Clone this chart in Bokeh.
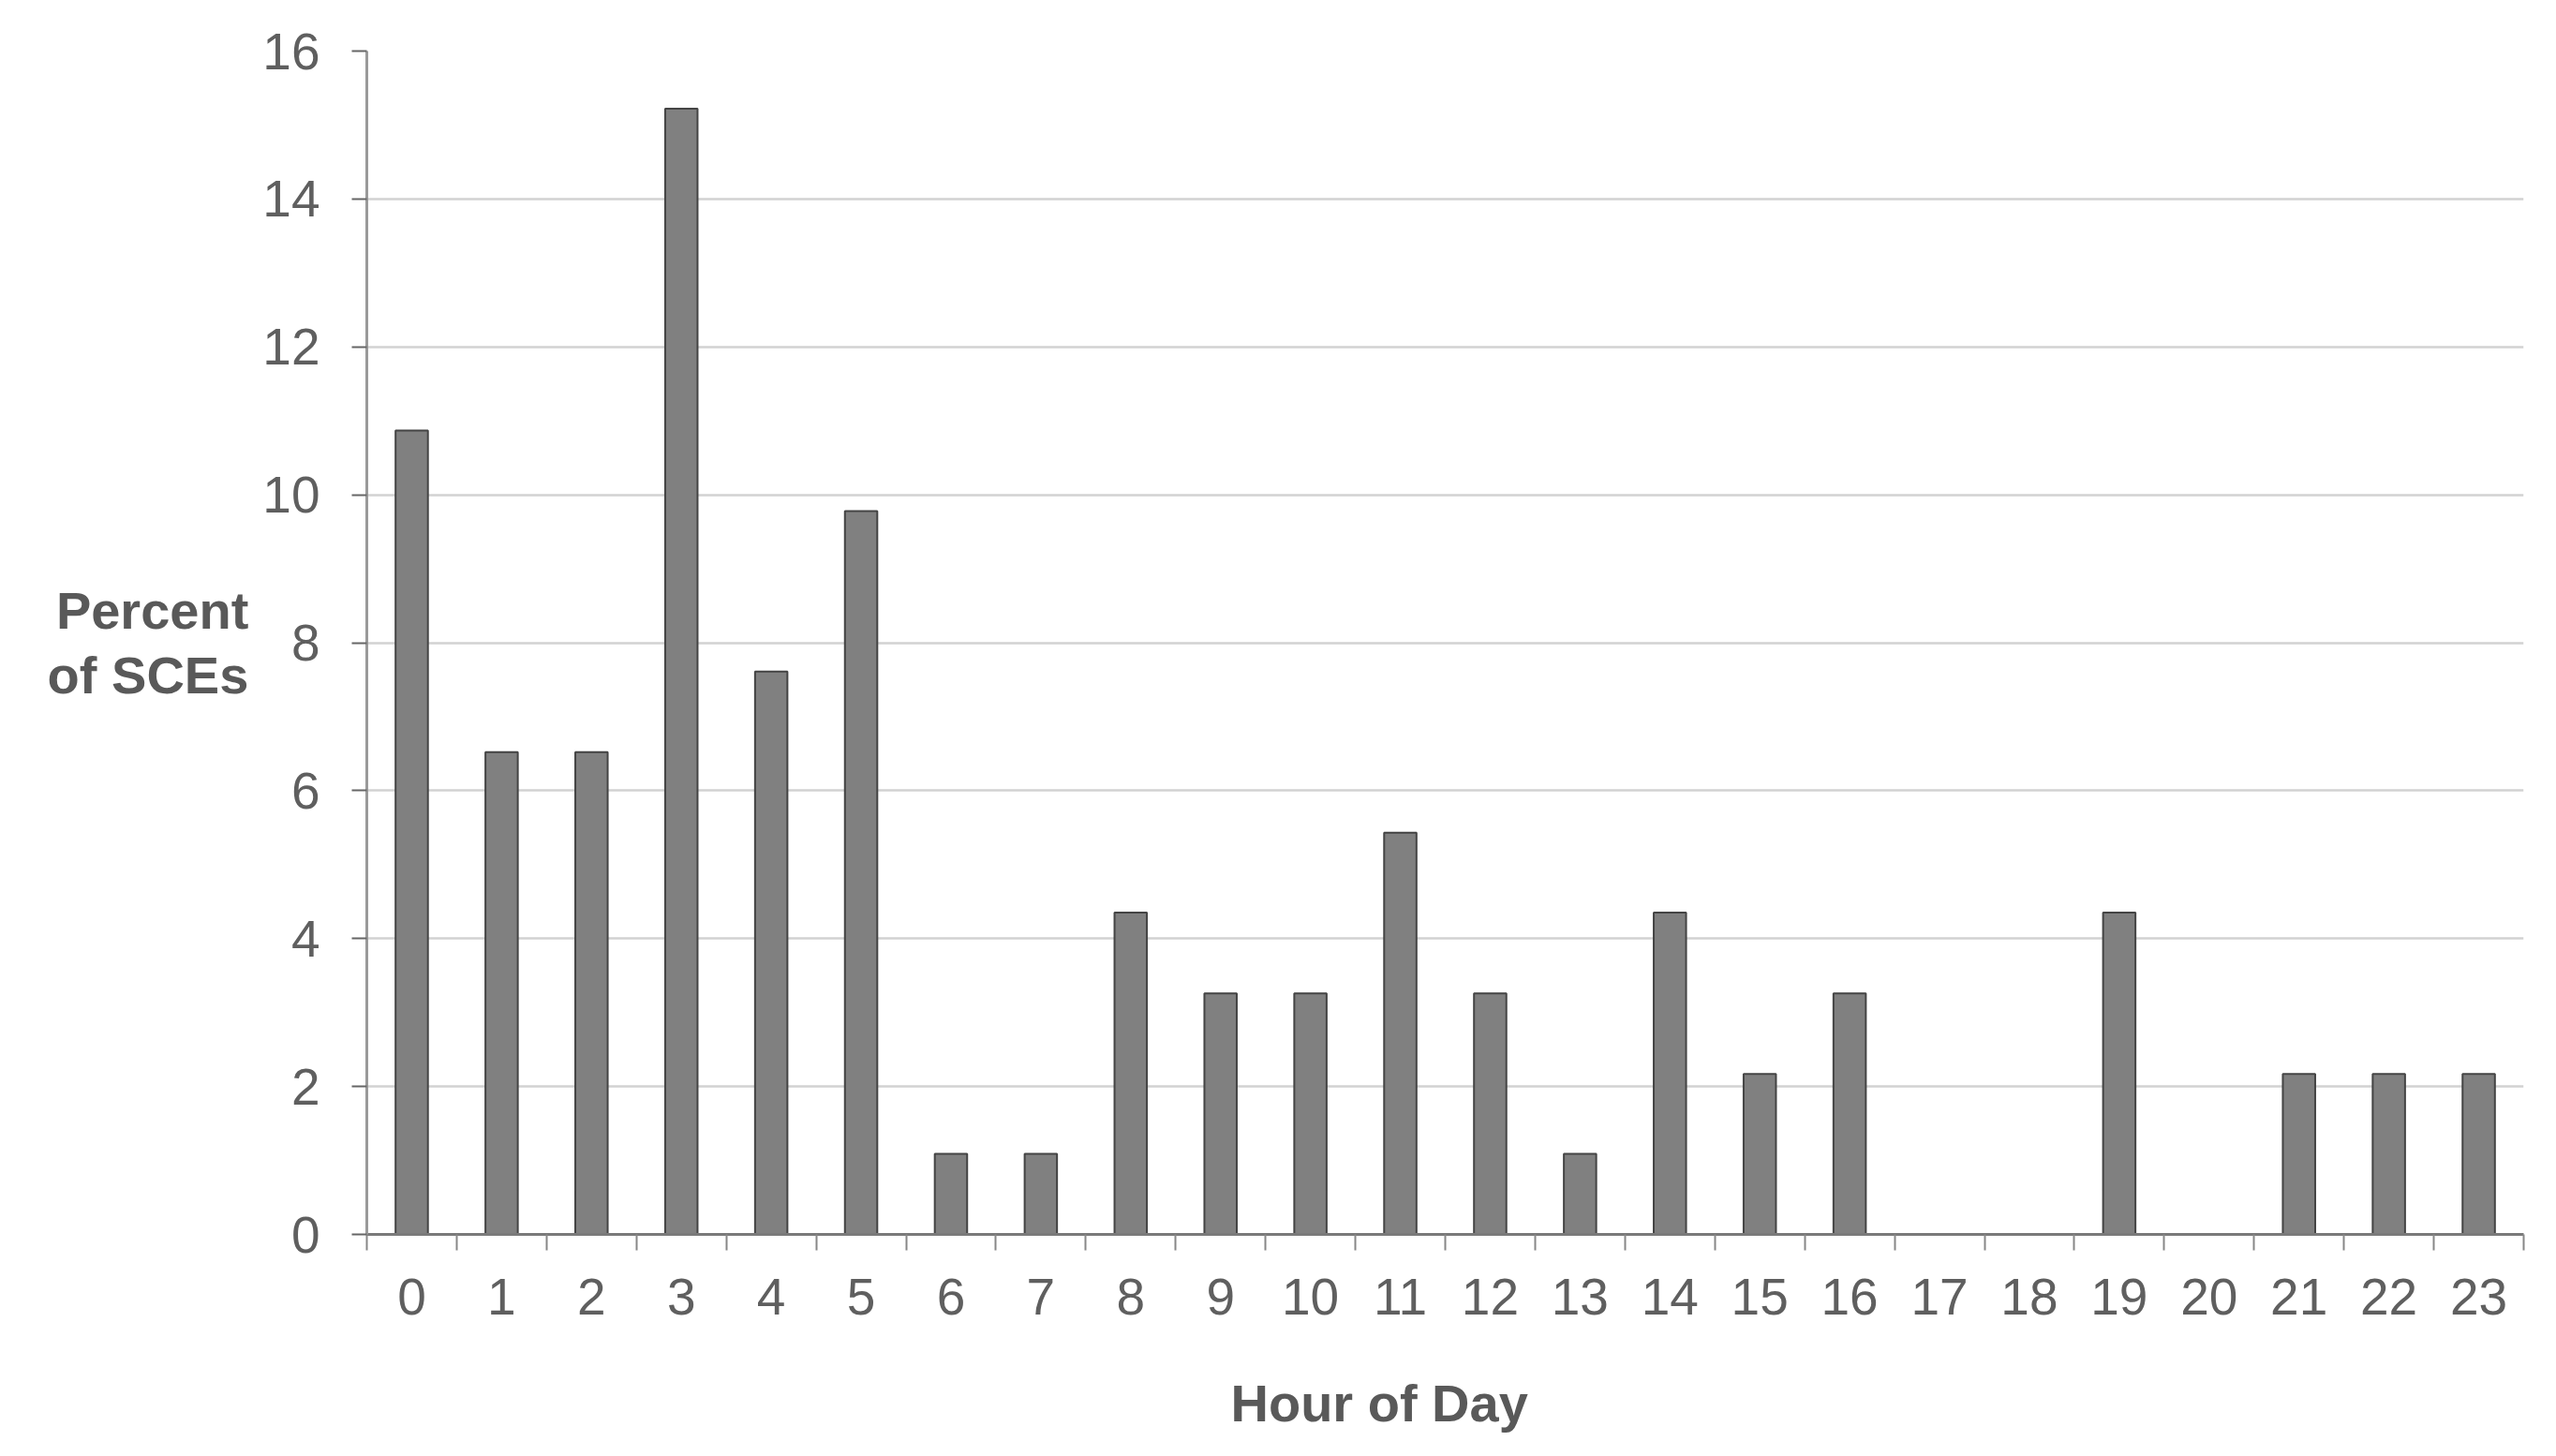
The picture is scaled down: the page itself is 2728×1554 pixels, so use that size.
from bokeh.plotting import figure
from bokeh.models import Range1d, FixedTicker, Title, ColumnDataSource
from bokeh.embed import file_html
from bokeh.resources import INLINE

# Data
hours = list(range(24))
hour_labels = [str(h) for h in hours]
percent_sces = [10.87, 6.52, 6.52, 15.22, 7.61, 9.78, 1.09, 1.09, 4.35, 3.26,
                3.26, 5.43, 3.26, 1.09, 4.35, 2.17, 3.26, 0.0, 0.0, 4.35,
                0.0, 2.17, 2.17, 2.17]
y_ticks = [0, 2, 4, 6, 8, 10, 12, 14, 16]

FONT = "Liberation Sans"
TICK_COLOR = "#5f5f5f"
TITLE_COLOR = "#595959"

p = figure(frame_width=2302, frame_height=1263,
           min_border_left=391, min_border_right=19,
           min_border_top=54, min_border_bottom=221,
           x_range=Range1d(-0.5, 23.5), y_range=Range1d(0, 16),
           output_backend="svg", toolbar_location=None)
p.outline_line_color = None
p.background_fill_color = "white"

src = ColumnDataSource(dict(x=hours, top=percent_sces))
p.vbar(x="x", top="top", bottom=0, width=0.36, source=src,
       fill_color="#808080", line_color="#444444", line_width=2)

# X axis: labels at centers, ticks at boundaries
p.xaxis.ticker = FixedTicker(ticks=hours, minor_ticks=[h - 0.5 for h in hours] + [23.5])
p.xaxis.major_label_overrides = {h: lab for h, lab in zip(hours, hour_labels)}
p.xaxis.major_tick_line_color = None
p.xaxis.major_tick_out = 0
p.xaxis.major_tick_in = 0
p.xaxis.minor_tick_line_color = "#888888"
p.xaxis.minor_tick_line_width = 2
p.xaxis.minor_tick_out = 17
p.xaxis.minor_tick_in = 0
p.xaxis.axis_line_color = "#7a7a7a"
p.xaxis.axis_line_width = 3
p.xaxis.major_label_text_font = FONT
p.xaxis.major_label_text_font_size = "55px"
p.xaxis.major_label_text_color = TICK_COLOR
p.xaxis.major_label_standoff = 30

# Y axis
p.yaxis.ticker = FixedTicker(ticks=y_ticks)
p.yaxis.major_tick_out = 16
p.yaxis.major_tick_in = 0
p.yaxis.major_tick_line_color = "#666666"
p.yaxis.major_tick_line_width = 2
p.yaxis.minor_tick_line_color = None
p.yaxis.axis_line_color = "#9a9a9a"
p.yaxis.axis_line_width = 3
p.yaxis.major_label_text_font = FONT
p.yaxis.major_label_text_font_size = "55px"
p.yaxis.major_label_text_color = TICK_COLOR
p.yaxis.major_label_standoff = 34

# Y axis title, horizontal, two lines
p.yaxis.axis_label = "Percent\nof SCEs"
p.yaxis.axis_label_orientation = "horizontal"
p.yaxis.axis_label_standoff = 12
p.yaxis.axis_label_text_font = FONT
p.yaxis.axis_label_text_font_style = "bold"
p.yaxis.axis_label_text_font_size = "56px"
p.yaxis.axis_label_text_line_height = 1.1
p.yaxis.axis_label_text_align = "left"
p.yaxis.axis_label_text_color = TITLE_COLOR

# Grid
p.xgrid.grid_line_color = None
p.ygrid.ticker = FixedTicker(ticks=y_ticks)
p.ygrid.grid_line_color = "#d2d2d2"
p.ygrid.grid_line_width = 2.5

# X axis title
p.add_layout(Title(text="Hour of Day", align="left", offset=922, standoff=116,
                   text_font=FONT, text_font_style="bold",
                   text_font_size="56px", text_color=TITLE_COLOR), "below")

open("out.html", "w").write(file_html(p, INLINE))
